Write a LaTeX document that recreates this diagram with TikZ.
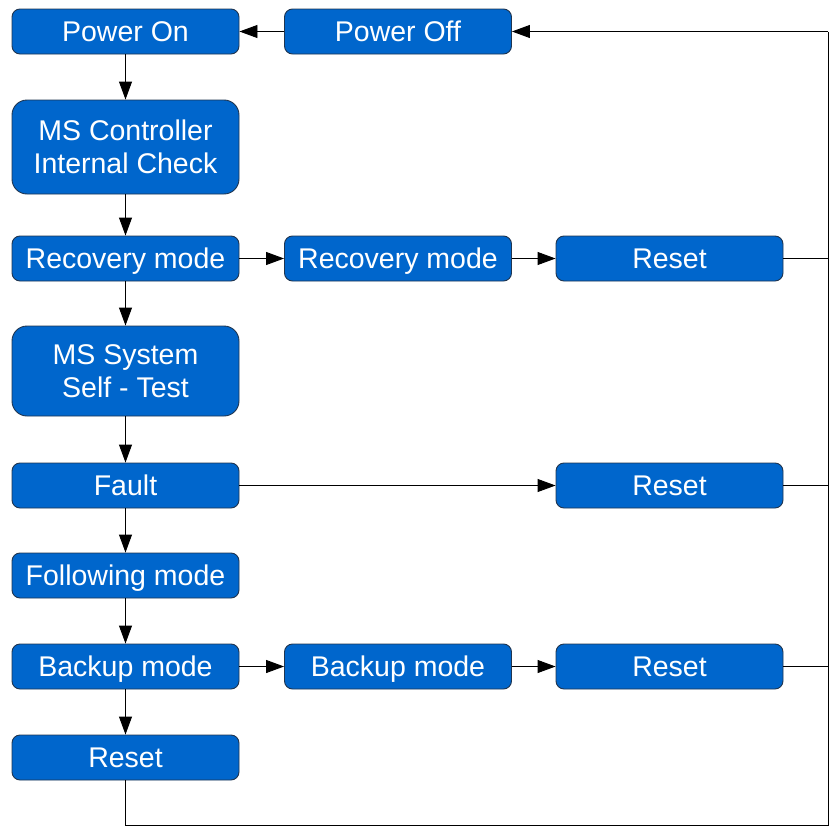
\documentclass[tikz,border=0pt]{standalone}
\usepackage{fontspec}
\setmainfont{Liberation Sans}
\usetikzlibrary{arrows.meta}
\definecolor{boxblue}{HTML}{0066CC}
\definecolor{boxedge}{HTML}{1F3550}
\begin{document}
\begin{tikzpicture}[x=1pt,y=-1pt,
  basebox/.style={draw=boxedge,line width=0.9pt,fill=boxblue,text=white,rounded corners=8pt,
    minimum width=227pt,minimum height=45pt,inner sep=0pt,align=center,
    font=\fontsize{28.5}{32.5}\selectfont},
  box/.style={basebox,text height=22pt,text depth=2pt},
  bigbox/.style={basebox,rounded corners=15pt},
  conn/.style={line width=0.9pt,draw=black},
  arr/.style={conn,-{Triangle[length=18pt,width=13pt]}}]
\useasboundingbox (0,0) rectangle (839,835);
\node[box] (on) at (125.5,31.5) {Power On};
\node[box] (off) at (398,31.5) {Power Off};
\node[bigbox,minimum height=94pt] (msc) at (125.5,147) {MS Controller\\Internal Check};
\node[box] (rec1) at (125.5,258.5) {Recovery mode};
\node[box] (rec2) at (398,258.5) {Recovery mode};
\node[box] (res1) at (669.5,258.5) {Reset};
\node[bigbox,minimum height=90pt] (mss) at (125.5,371) {MS System\\Self - Test};
\node[box] (fault) at (125.5,485.5) {Fault};
\node[box] (res2) at (669.5,485.5) {Reset};
\node[box] (follow) at (125.5,575.5) {Following mode};
\node[box] (bak1) at (125.5,666.5) {Backup mode};
\node[box] (bak2) at (398,666.5) {Backup mode};
\node[box] (res3) at (669.5,666.5) {Reset};
\node[box] (res4) at (125.5,757.5) {Reset};
\coordinate (rt) at (828,31.5);
\coordinate (rb) at (828,825);
\coordinate (lb) at (125.5,825);
\draw[arr] (off) -- (on);
\draw[arr] (on) -- (msc);
\draw[arr] (msc) -- (rec1);
\draw[arr] (rec1) -- (rec2);
\draw[arr] (rec2) -- (res1);
\draw[arr] (rec1) -- (mss);
\draw[arr] (mss) -- (fault);
\draw[arr] (fault) -- (res2);
\draw[arr] (fault) -- (follow);
\draw[arr] (follow) -- (bak1);
\draw[arr] (bak1) -- (bak2);
\draw[arr] (bak2) -- (res3);
\draw[arr] (bak1) -- (res4);
\draw[conn] (res4.south) -- (lb) -- (rb) -- (rt);
\draw[arr] (rt) -- (off.east);
\draw[conn] (res1.east) -- (res1.east -| rt);
\draw[conn] (res2.east) -- (res2.east -| rt);
\draw[conn] (res3.east) -- (res3.east -| rt);
\end{tikzpicture}
\end{document}
